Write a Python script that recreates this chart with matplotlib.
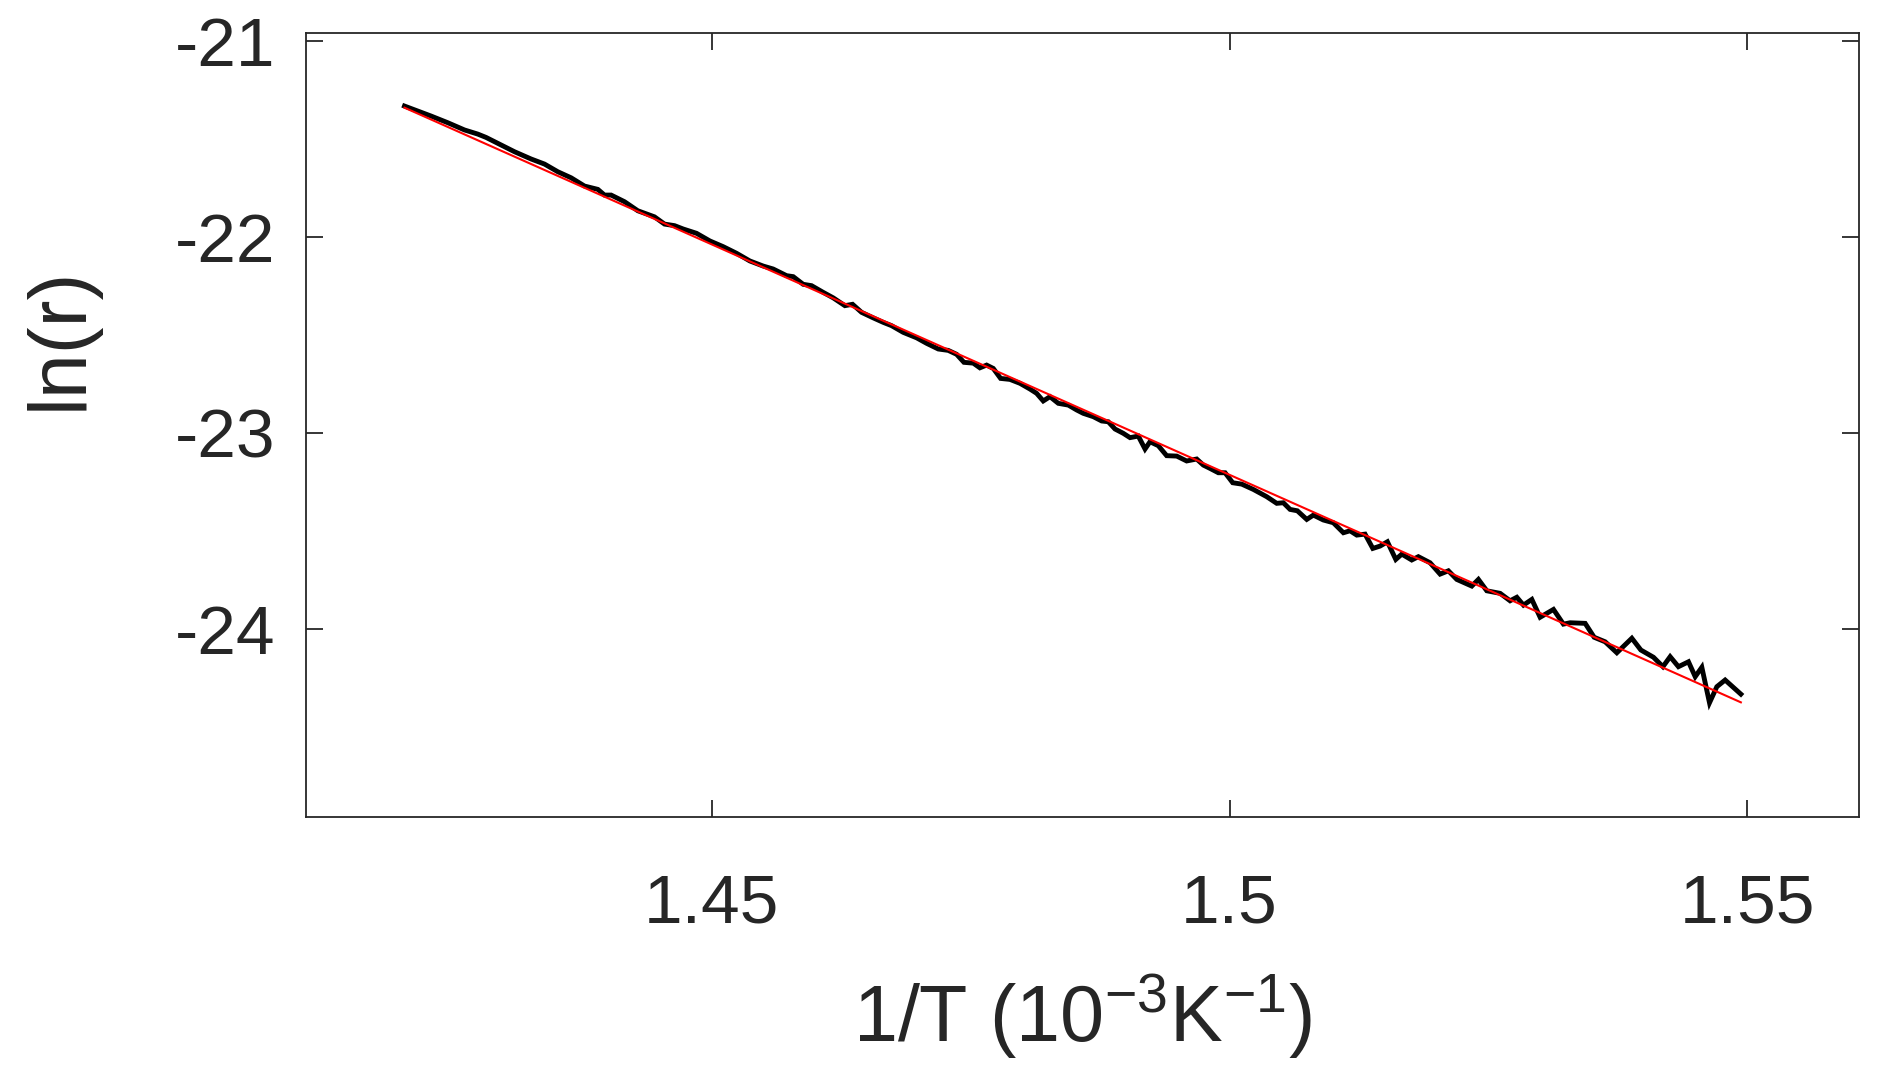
import numpy as np
import matplotlib
matplotlib.use("Agg")
import matplotlib.pyplot as plt

plt.rcParams['font.family'] = ['Liberation Sans', 'DejaVu Sans']
plt.rcParams['mathtext.fontset'] = 'custom'
plt.rcParams['mathtext.rm'] = 'Liberation Sans'
plt.rcParams['mathtext.it'] = 'Liberation Sans:italic'
plt.rcParams['axes.unicode_minus'] = False

# 1/T (10^-3 K^-1)
inv_T = [
    1.42031, 1.42288, 1.42449, 1.42611, 1.42739, 1.42819, 1.42932, 1.43094, 1.43254, 1.43384,
    1.43512, 1.43641, 1.43770, 1.43899, 1.43963, 1.44027, 1.44157, 1.44285, 1.44446, 1.44543,
    1.44640, 1.44723, 1.44852, 1.44981, 1.45109, 1.45239, 1.45367, 1.45496, 1.45592, 1.45722,
    1.45786, 1.45882, 1.45963, 1.46075, 1.46172, 1.46285, 1.46359, 1.46446, 1.46558, 1.46655,
    1.46736, 1.46848, 1.46978, 1.47074, 1.47187, 1.47283, 1.47364, 1.47435, 1.47525, 1.47589,
    1.47654, 1.47718, 1.47789, 1.47879, 1.47976, 1.48072, 1.48137, 1.48201, 1.48266, 1.48346,
    1.48443, 1.48524, 1.48587, 1.48684, 1.48765, 1.48829, 1.48894, 1.48974, 1.49039, 1.49119,
    1.49184, 1.49232, 1.49312, 1.49393, 1.49490, 1.49586, 1.49683, 1.49747, 1.49812, 1.49892,
    1.49957, 1.50031, 1.50118, 1.50230, 1.50359, 1.50456, 1.50520, 1.50585, 1.50655, 1.50746,
    1.50810, 1.50906, 1.51003, 1.51100, 1.51164, 1.51229, 1.51309, 1.51384, 1.51454, 1.51525,
    1.51606, 1.51664, 1.51760, 1.51824, 1.51937, 1.52034, 1.52114, 1.52195, 1.52340, 1.52404,
    1.52485, 1.52614, 1.52710, 1.52775, 1.52839, 1.52920, 1.53000, 1.53129, 1.53225, 1.53290,
    1.53435, 1.53522, 1.53628, 1.53741, 1.53886, 1.53973, 1.54095, 1.54186, 1.54256, 1.54336,
    1.54433, 1.54498, 1.54562, 1.54636, 1.54707, 1.54787, 1.54939,
]
# ln(r)
ln_r = [
    -21.333, -21.384, -21.418, -21.455, -21.476, -21.493, -21.523, -21.566, -21.603, -21.629,
    -21.668, -21.699, -21.741, -21.758, -21.787, -21.787, -21.821, -21.867, -21.898, -21.935,
    -21.943, -21.960, -21.982, -22.021, -22.050, -22.084, -22.123, -22.149, -22.164, -22.198,
    -22.203, -22.242, -22.249, -22.283, -22.311, -22.351, -22.344, -22.385, -22.413, -22.436,
    -22.453, -22.487, -22.515, -22.543, -22.572, -22.579, -22.599, -22.640, -22.644, -22.668,
    -22.654, -22.671, -22.722, -22.727, -22.747, -22.776, -22.798, -22.837, -22.815, -22.849,
    -22.858, -22.883, -22.900, -22.917, -22.939, -22.943, -22.980, -23.002, -23.024, -23.016,
    -23.082, -23.045, -23.065, -23.116, -23.118, -23.143, -23.133, -23.164, -23.181, -23.203,
    -23.203, -23.254, -23.261, -23.288, -23.325, -23.359, -23.356, -23.390, -23.397, -23.441,
    -23.419, -23.444, -23.458, -23.509, -23.499, -23.521, -23.516, -23.589, -23.577, -23.555,
    -23.645, -23.618, -23.648, -23.631, -23.662, -23.720, -23.703, -23.747, -23.781, -23.747,
    -23.805, -23.818, -23.856, -23.838, -23.878, -23.849, -23.940, -23.900, -23.975, -23.968,
    -23.971, -24.042, -24.065, -24.121, -24.047, -24.107, -24.144, -24.192, -24.141, -24.192,
    -24.167, -24.243, -24.195, -24.376, -24.294, -24.260, -24.332,
]

x_ticks = [1.45, 1.50, 1.55]
x_tick_labels = ['1.45', '1.5', '1.55']
y_ticks = [-24, -23, -22, -21]
y_tick_labels = ['-24', '-23', '-22', '-21']

x = np.array(inv_T)
y = np.array(ln_r)
slope, intercept = np.polyfit(x, y, 1)
x_fit = np.array([x.min(), x.max()])
y_fit = slope * x_fit + intercept

W, H = 1879, 1082
fig = plt.figure(figsize=(W / 100, H / 100), dpi=100)
ax = fig.add_axes([306 / W, 1 - 816.7 / H, (1859 - 306) / W, (816.7 - 32.7) / H])

ax.plot(x, y, color='black', lw=3.5, solid_joinstyle='miter', zorder=2)
ax.plot(x_fit, y_fit, color='red', lw=1.5, zorder=3)

ax.set_xlim(1.4108, 1.5608)
ax.set_ylim(-24.957, -20.959)

dark = '#262626'
ax.set_xticks(x_ticks)
ax.set_xticklabels(x_tick_labels)
ax.set_yticks(y_ticks)
ax.set_yticklabels(y_tick_labels)
ax.tick_params(axis='both', direction='in', length=12, width=1.3, colors=dark,
               labelsize=50, top=True, right=True)
ax.tick_params(axis='x', pad=40)
ax.tick_params(axis='y', pad=22)
for s in ax.spines.values():
    s.set_color(dark)
    s.set_linewidth(1.3)

ax.set_xlabel('1/T (10$^{\\mathregular{-3}}$K$^{\\mathregular{-1}}$)', fontsize=57, color=dark)
ax.xaxis.set_label_coords(0.5, -0.287)
ax.xaxis.label.set_va('baseline')
ax.set_ylabel('ln(r)', fontsize=58, color=dark)
ax.yaxis.set_label_coords(-0.158, 0.61)
ax.yaxis.label.set_va('center')

fig.savefig('out.png', dpi=100)
